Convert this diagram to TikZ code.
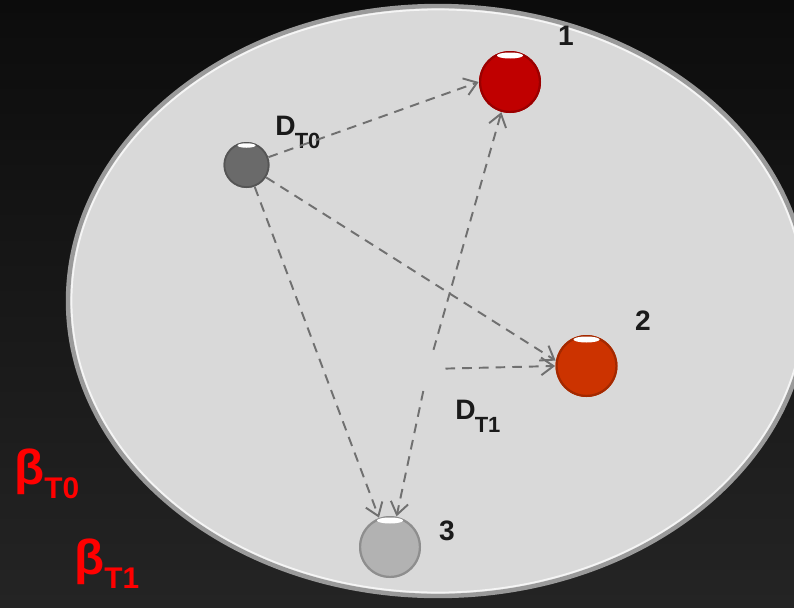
\documentclass[tikz,border=0pt]{standalone}
\usepackage{fontspec}
\setmainfont{Liberation Sans}
\usetikzlibrary{arrows.meta}
\definecolor{bgtop}{HTML}{0C0C0C}
\definecolor{bgbot}{HTML}{242424}
\definecolor{plate}{HTML}{D9D9D9}
\definecolor{rim}{HTML}{9A9A9A}
\definecolor{wire}{HTML}{707070}
\definecolor{ink}{HTML}{1A1A1A}
\definecolor{redball}{HTML}{C00000}
\definecolor{orangeball}{HTML}{CC3300}
\definecolor{darkball}{HTML}{6A6A6A}
\definecolor{lightball}{HTML}{B2B2B2}
\definecolor{betared}{HTML}{FF0000}
\begin{document}
\begin{tikzpicture}[font=\bfseries,
          ball/.style={circle, inner sep=0pt, minimum size=1.24cm, fill=#1,
            path picture={
              \draw[#1!80!black, line width=2.5pt] (path picture bounding box.center) circle (0.62cm);
              \fill[white] ([yshift=-0.09cm]path picture bounding box.north) ellipse (0.26cm and 0.06cm);}},
          seed/.style={circle, inner sep=0pt, minimum size=0.92cm, fill=#1,
            path picture={
              \draw[#1!80!black, line width=2pt] (path picture bounding box.center) circle (0.46cm);
              \fill[white] ([yshift=-0.07cm]path picture bounding box.north) ellipse (0.18cm and 0.045cm);}},
          num/.style={font=\fontsize{16}{16}\selectfont\bfseries, text=ink, inner sep=0pt, anchor=base},
          lbl/.style={font=\fontsize{16}{16}\selectfont\bfseries, text=ink, inner sep=0pt, anchor=base west},
          beta/.style={font=\fontsize{28}{28}\selectfont\bfseries, text=betared, inner sep=0pt, anchor=base west},
          arr/.style={draw=wire, line width=1.1pt, dash pattern=on 5.5pt off 4pt,
            -{Straight Barb[length=7pt, width=10pt]}}]
        \useasboundingbox (0,0) rectangle (15.88,12.14);
        \shade[top color=bgtop, bottom color=bgbot] (0,0) rectangle (15.88,12.14);
        % plate
        \fill[plate] (8.76,6.12) ellipse (7.40cm and 5.90cm);
        \draw[rim, line width=2.5pt] (8.76,6.12) ellipse (7.40cm and 5.90cm);
        \draw[white!92!gray, line width=1pt] (8.76,6.12) ellipse (7.33cm and 5.83cm);
        % balls
        \node[seed=darkball] (g0) at (4.93,8.84) {};
        \node[ball=redball] (r1) at (10.20,10.50) {};
        \node[ball=orangeball] (r2) at (11.73,4.82) {};
        \node[ball=lightball] (r3) at (7.80,1.20) {};
        \coordinate (mid) at (8.56,4.76);
        \node[num] (n1) at (11.32,11.24) {1};
        \node[num] (n2) at (12.86,5.54) {2};
        \node[num] (n3) at (8.94,1.34) {3};
        \node[lbl] (dt0) at (5.50,9.44) {D\kern-0.5pt\raisebox{-7.5pt}{\fontsize{12.5}{12.5}\selectfont T0}};
        \node[lbl] (dt1) at (9.10,3.76) {D\kern-0.5pt\raisebox{-7.5pt}{\fontsize{12.5}{12.5}\selectfont T1}};
        \node[beta] (bt0) at (0.28,2.46) {β\raisebox{-8.5pt}{\fontsize{17}{17}\selectfont T0}};
        \node[beta] (bt1) at (1.48,0.66) {β\raisebox{-8.5pt}{\fontsize{17}{17}\selectfont T1}};
        % moves
        \draw[arr] (g0) -- (r1.west);
        \draw[arr] (g0) -- (r2.170);
        \draw[arr] (g0) -- (r3);
        \draw[arr, shorten <=0.4cm] (mid) -- (r1);
        \draw[arr, shorten <=0.35cm] (mid) -- (r2.west);
        \draw[arr, shorten <=0.45cm] (mid) -- (r3);
      \end{tikzpicture}
\end{document}
